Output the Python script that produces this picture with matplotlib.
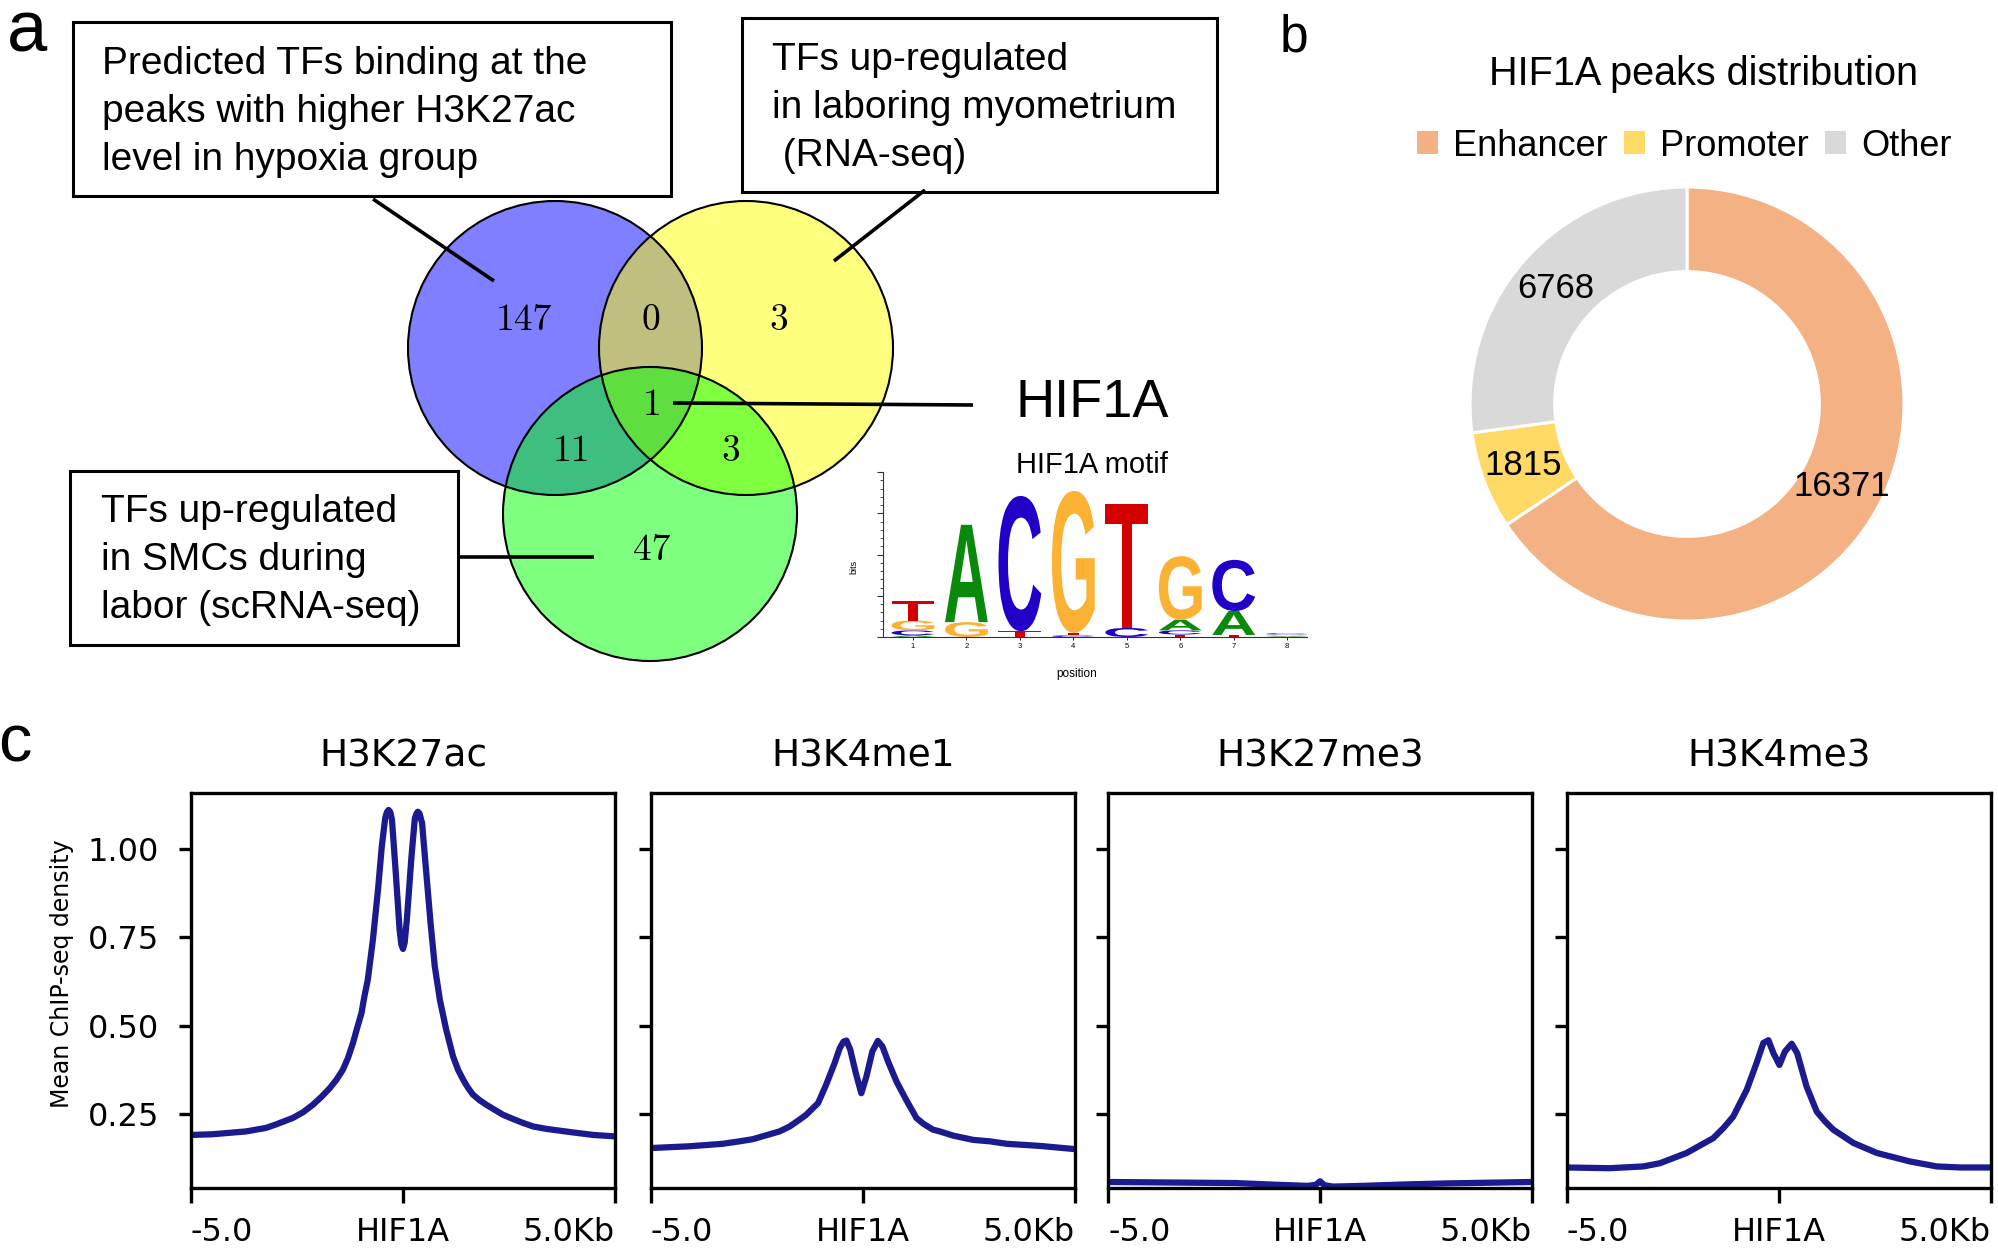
import matplotlib
matplotlib.use('Agg')
import matplotlib.pyplot as plt
from matplotlib.patches import Circle, Rectangle, PathPatch, Patch
from matplotlib.textpath import TextPath
from matplotlib.font_manager import FontProperties
import matplotlib.transforms as mtransforms

W, H = 1998, 1248
ARIAL = 'Liberation Sans'

# ---------------- data ----------------
# venn region counts: blue only, blue&yellow, yellow only, all three, blue&green, yellow&green, green only
venn_counts = [147, 0, 3, 1, 11, 3, 47]
box1_lines = ['Predicted TFs binding at the', 'peaks with higher H3K27ac', 'level in hypoxia group']
box2_lines = ['TFs up-regulated', 'in laboring myometrium', ' (RNA-seq)']
box3_lines = ['TFs up-regulated', 'in SMCs during', 'labor (scRNA-seq)']

peak_labels = ['Enhancer', 'Promoter', 'Other']
peak_counts = [16371, 1815, 6768]
peak_colors = ['#F4B183', '#FFD966', '#D9D9D9']

# motif information content (bits) per position 1..8
motif_A = [0.02, 1.18, 0.0, 0.0, 0.0, 0.13, 0.29, 0.01]
motif_C = [0.06, 0.0, 1.64, 0.02, 0.11, 0.05, 0.62, 0.015]
motif_G = [0.12, 0.18, 0.0, 1.72, 0.0, 0.77, 0.0, 0.01]
motif_T = [0.24, 0.0, 0.07, 0.03, 1.50, 0.03, 0.025, 0.01]

marks = ['H3K27ac', 'H3K4me1', 'H3K27me3', 'H3K4me3']
k27ac_x = [-5.0, -4.49, -3.7, -3.23, -2.99, -2.6, -2.36, -2.13, -1.93, -1.73, -1.57, -1.42, -1.3, -1.18,
           -1.09, -0.98, -0.91, -0.83, -0.71, -0.59, -0.5, -0.42, -0.38, -0.34, -0.3, -0.26, -0.17, -0.08,
           -0.04, 0.0, 0.04, 0.09, 0.2, 0.28, 0.32, 0.35, 0.39, 0.45, 0.55, 0.65, 0.75, 0.87, 1.02, 1.1,
           1.18, 1.3, 1.42, 1.54, 1.65, 1.81, 1.97, 2.36, 2.6, 2.83, 3.07, 3.39, 4.02, 4.49, 5.0]
k27ac_y = [0.191, 0.193, 0.201, 0.211, 0.221, 0.239, 0.255, 0.276, 0.298, 0.323, 0.347, 0.375, 0.408, 0.451,
           0.49, 0.535, 0.583, 0.63, 0.743, 0.884, 1.007, 1.087, 1.104, 1.11, 1.104, 1.082, 0.931, 0.771,
           0.73, 0.717, 0.735, 0.799, 0.978, 1.087, 1.1, 1.105, 1.1, 1.073, 0.931, 0.79, 0.667, 0.573,
           0.488, 0.451, 0.413, 0.375, 0.347, 0.323, 0.305, 0.289, 0.276, 0.248, 0.236, 0.225, 0.215,
           0.208, 0.198, 0.191, 0.187]
k4me1_x = [-5.0, -4.09, -3.31, -2.91, -2.6, -1.97, -1.73, -1.5, -1.34, -1.18, -1.06, -0.87, -0.67, -0.55,
           -0.46, -0.39, -0.3, -0.17, -0.04, 0.08, 0.22, 0.35, 0.46, 0.59, 0.79, 1.02, 1.26, 1.42, 1.65,
           1.81, 2.13, 2.6, 2.99, 3.39, 4.17, 5.0]
k4me1_y = [0.154, 0.159, 0.166, 0.173, 0.179, 0.201, 0.215, 0.234, 0.248, 0.267, 0.281, 0.333, 0.394,
           0.436, 0.455, 0.458, 0.432, 0.366, 0.309, 0.356, 0.427, 0.457, 0.441, 0.399, 0.342, 0.29, 0.239,
           0.223, 0.206, 0.201, 0.189, 0.177, 0.173, 0.166, 0.16, 0.151]
k27me3_x = [-5.0, -4.0, -3.0, -2.0, -1.0, -0.3, -0.1, 0.0, 0.1, 0.3, 1.0, 2.0, 3.0, 4.0, 5.0]
k27me3_y = [0.058, 0.057, 0.056, 0.055, 0.05, 0.047, 0.05, 0.06, 0.049, 0.045, 0.047, 0.051, 0.054, 0.056,
            0.058]
k4me3_x = [-5.0, -3.99, -3.2, -2.81, -2.18, -1.55, -1.3, -1.08, -0.76, -0.53, -0.37, -0.25, -0.13, 0.01,
           0.14, 0.3, 0.43, 0.65, 0.89, 1.08, 1.28, 1.76, 2.31, 3.09, 3.72, 4.28, 5.0]
k4me3_y = [0.099, 0.097, 0.102, 0.111, 0.14, 0.182, 0.212, 0.243, 0.319, 0.394, 0.451, 0.459, 0.422, 0.389,
           0.427, 0.449, 0.422, 0.328, 0.257, 0.23, 0.206, 0.168, 0.14, 0.116, 0.102, 0.099, 0.099]
profiles = [(k27ac_x, k27ac_y), (k4me1_x, k4me1_y), (k27me3_x, k27me3_y), (k4me3_x, k4me3_y)]


def fx(x):
    return x / W


def fy(y):
    return 1 - y / H


fig = plt.figure(figsize=(W / 100, H / 100), dpi=100)
plt.rcParams['font.family'] = 'DejaVu Sans'

# ---------------- panel a (pixel overlay) ----------------
ov = fig.add_axes([0, 0, 1, 1])
ov.set_xlim(0, W)
ov.set_ylim(H, 0)
ov.axis('off')
ov.patch.set_visible(False)

centers = [(555, 348), (746, 348), (650, 514)]
for (cx, cy), col in zip(centers, ['blue', 'yellow', 'lime']):
    ov.add_patch(Circle((cx, cy), 147, fc=col, alpha=0.5, ec='none'))
for cx, cy in centers:
    ov.add_patch(Circle((cx, cy), 147, fill=False, ec='black', lw=1.5))

num_pos = [(524, 330), (651, 330), (779, 330), (652, 415), (571, 461), (731, 461), (652, 560)]
for (x, y), n in zip(num_pos, venn_counts):
    ov.text(x, y, str(n), ha='center', va='baseline', fontsize=27, family='cmr10')

# boxes
for (x0, y0, x1, y1) in [(73, 22, 671, 196), (742, 18, 1217, 192), (70, 471, 458, 645)]:
    ov.add_patch(Rectangle((x0, y0), x1 - x0, y1 - y0, fill=False, ec='black', lw=2.2))
for lines, x, y0 in [(box1_lines, 102, 74), (box2_lines, 772, 70), (box3_lines, 101, 522)]:
    for i, s in enumerate(lines):
        ov.text(x, y0 + i * 48, s, ha='left', va='baseline', fontsize=28, family=ARIAL)

for (x0, y0), (x1, y1) in [((373, 199), (494, 281)), ((925, 190), (834, 261)),
                           ((673, 403), (973, 405)), ((458, 557), (594, 557))]:
    ov.plot([x0, x1], [y0, y1], color='black', lw=2.6, solid_capstyle='butt')

ov.text(1016, 417, 'HIF1A', ha='left', va='baseline', fontsize=39, family=ARIAL)
ov.text(7, 51, 'a', ha='left', va='baseline', fontsize=52, family=ARIAL)
ov.text(1280, 51, 'b', ha='left', va='baseline', fontsize=37, family=ARIAL)
ov.text(-2, 762, 'c', ha='left', va='baseline', fontsize=48, family=ARIAL)

# ---------------- motif logo ----------------
max_ = fig.add_axes([fx(883), fy(637), 424 / W, 165 / H])
max_.set_xlim(0.44, 8.37)
max_.set_ylim(0, 2)
logo_fp = FontProperties(family=ARIAL, weight='bold')
base_colors = {'A': '#0a8a0a', 'C': '#2200c8', 'G': '#fbb234', 'T': '#d40000'}
motif = {'A': motif_A, 'C': motif_C, 'G': motif_G, 'T': motif_T}
for p in range(8):
    stack = sorted([(motif[b][p], b) for b in 'ACGT'])
    bottom = 0.0
    for h, b in stack:
        if h <= 0:
            continue
        tp = TextPath((0, 0), b, size=1, prop=logo_fp)
        bb = tp.get_extents()
        w = 0.8
        tr = (mtransforms.Affine2D().translate(-bb.x0, -bb.y0)
              .scale(w / bb.width, h / bb.height).translate(p + 1 - w / 2, bottom))
        max_.add_patch(PathPatch(tr.transform_path(tp), fc=base_colors[b], ec='none'))
        bottom += h
for s in ['top', 'right']:
    max_.spines[s].set_visible(False)
for s in ['left', 'bottom']:
    max_.spines[s].set_linewidth(0.8)
    max_.spines[s].set_color('#333333')
max_.set_yticks([0, 0.5, 1.0, 1.5, 2.0])
max_.set_yticks([i / 10 for i in range(21)], minor=True)
max_.set_yticklabels([])
max_.set_xticks(range(1, 9))
max_.set_xticklabels([str(i) for i in range(1, 9)], fontsize=5.5, family=ARIAL)
max_.tick_params(axis='y', which='major', length=4, width=0.8, color='#333333')
max_.tick_params(axis='y', which='minor', length=2, width=0.6, color='#333333')
max_.tick_params(axis='x', length=2, width=0.6, pad=2)
max_.patch.set_visible(False)
fig.text(fx(1077), fy(677), 'position', ha='center', va='baseline', fontsize=8.5, family=ARIAL)
fig.text(fx(854), fy(567), 'bits', ha='center', va='center', rotation=90, fontsize=6.5, family=ARIAL)
fig.text(fx(1092), fy(473), 'HIF1A motif', ha='center', va='baseline', fontsize=21, family=ARIAL)

# ---------------- panel b donut ----------------
bx = fig.add_axes([fx(1687 - 217), fy(404 + 217), 434 / W, 434 / H])
total = sum(peak_counts)
wedges, _, autotexts = bx.pie(peak_counts, colors=peak_colors, startangle=90, counterclock=False,
                              radius=1, pctdistance=0.806,
                              autopct=lambda p: '{:d}'.format(int(round(p * total / 100))),
                              wedgeprops=dict(width=0.39, edgecolor='white', linewidth=2.2),
                              textprops=dict(fontsize=25, family=ARIAL))
bx.set_xlim(-1, 1)
bx.set_ylim(-1, 1)
fig.text(fx(1704), fy(85), 'HIF1A peaks distribution', ha='center', va='baseline', fontsize=28.5,
         family=ARIAL)
handles = [Patch(facecolor=c, edgecolor='none') for c in peak_colors]
fig.legend(handles, peak_labels, loc='center', bbox_to_anchor=(fx(1684), fy(146)), ncol=3,
           frameon=False, handlelength=0.6, handleheight=0.6, handletextpad=0.4, columnspacing=0.45,
           borderpad=0, prop=FontProperties(family=ARIAL, size=26))

# ---------------- panel c profiles ----------------
lefts = [191, 651, 1108, 1567]
for i, (mark, (xs, ys), left) in enumerate(zip(marks, profiles, lefts)):
    ax = fig.add_axes([fx(left), fy(1188), 424 / W, 395 / H])
    ax.plot(xs, ys, color='#1b1b8f', lw=4.5, solid_joinstyle='round', solid_capstyle='round')
    ax.set_xlim(-5, 5)
    ax.set_ylim(0.041, 1.158)
    ax.set_xticks([-5, 0, 5])
    ax.set_xticklabels(['-5.0', 'HIF1A', '5.0Kb'])
    xl = ax.get_xticklabels()
    xl[0].set_ha('left')
    xl[-1].set_ha('right')
    ax.set_yticks([0.25, 0.5, 0.75, 1.0])
    if i == 0:
        ax.set_yticklabels(['0.25', '0.50', '0.75', '1.00'])
    else:
        ax.set_yticklabels([])
    ax.tick_params(axis='x', length=11, width=2.4, labelsize=23, pad=10)
    ax.tick_params(axis='y', length=9, width=2.4, labelsize=23, pad=14)
    for s in ax.spines.values():
        s.set_linewidth(2.4)
    ax.set_title(mark, fontsize=27, pad=19)

fig.text(fx(62), fy(974), 'Mean ChIP-seq density', rotation=90, ha='center', va='center', fontsize=17)

fig.savefig('out.png', dpi=100)
